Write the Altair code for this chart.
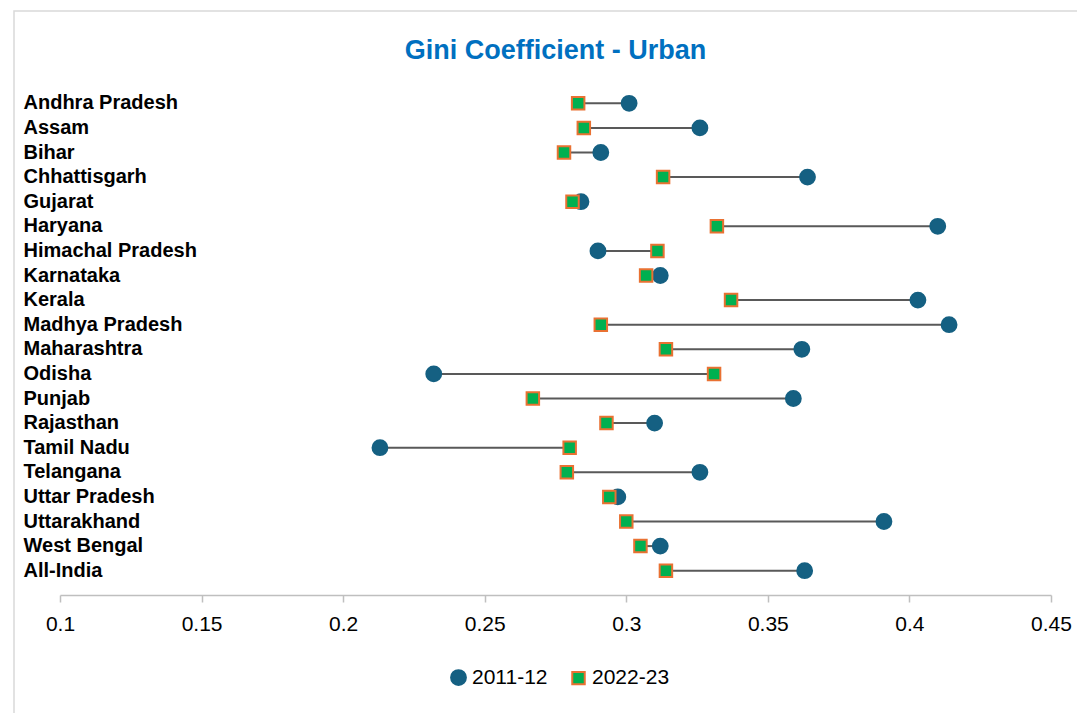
import altair as alt
import pandas as pd

# Urban Gini coefficient by state, two survey rounds
states = [
    "Andhra Pradesh", "Assam", "Bihar", "Chhattisgarh", "Gujarat", "Haryana",
    "Himachal Pradesh", "Karnataka", "Kerala", "Madhya Pradesh", "Maharashtra",
    "Odisha", "Punjab", "Rajasthan", "Tamil Nadu", "Telangana", "Uttar Pradesh",
    "Uttarakhand", "West Bengal", "All-India",
]
gini_2011 = [0.301, 0.326, 0.291, 0.364, 0.284, 0.410, 0.290, 0.312, 0.403, 0.414,
             0.362, 0.232, 0.359, 0.310, 0.213, 0.326, 0.297, 0.391, 0.312, 0.363]
gini_2022 = [0.283, 0.285, 0.278, 0.313, 0.281, 0.332, 0.311, 0.307, 0.337, 0.291,
             0.314, 0.331, 0.267, 0.293, 0.280, 0.279, 0.294, 0.300, 0.305, 0.314]
periods = ["2011-12", "2022-23"]
x_ticks = [0.1, 0.15, 0.2, 0.25, 0.3, 0.35, 0.4, 0.45]

BLUE = "#156082"
GREEN = "#00B050"
ORANGE = "#E97132"
LINE = "#595959"

wide = pd.DataFrame({"state": states, "g2011": gini_2011, "g2022": gini_2022})
long = pd.concat([
    pd.DataFrame({"state": states, "period": periods[0], "gini": gini_2011}),
    pd.DataFrame({"state": states, "period": periods[1], "gini": gini_2022}),
], ignore_index=True)

x_scale = alt.Scale(domain=[0.1, 0.45], nice=False, zero=False)
y_scale = alt.Scale(domain=states, paddingInner=0, paddingOuter=0)

# outer chart frame
frame = alt.Chart(pd.DataFrame({"k": [0]})).mark_rect(
    fillOpacity=0, stroke="#D9D9D9", strokeWidth=1.5
).encode(
    x=alt.value(-46), x2=alt.value(1100), y=alt.value(-80), y2=alt.value(700)
)

connectors = alt.Chart(wide).mark_rule(color=LINE, strokeWidth=2).encode(
    x=alt.X("g2011:Q", scale=x_scale,
            axis=alt.Axis(values=x_ticks, title=None, grid=False, offset=12,
                          format="~g",
                          domainColor="#BFBFBF", domainWidth=1.5,
                          tickColor="#BFBFBF", tickWidth=1.5, tickSize=7,
                          labelFontSize=21, labelColor="#000000",
                          labelFont="Liberation Sans", labelPadding=11,
                          labelFlush=False)),
    x2="g2022:Q",
    y=alt.Y("state:N", scale=y_scale, sort=states,
            axis=alt.Axis(title=None, domain=False, ticks=False, tickSize=0,
                          labelAlign="left", labelPadding=37,
                          labelFontSize=20, labelFontWeight="bold",
                          labelFont="Liberation Sans", labelColor="#000000")),
)

points = alt.Chart(long).mark_point(filled=True, strokeWidth=2, opacity=1).encode(
    x=alt.X("gini:Q", scale=x_scale),
    y=alt.Y("state:N", scale=y_scale, sort=states),
    shape=alt.Shape("period:N", scale=alt.Scale(domain=periods, range=["circle", "square"]), title=None),
    fill=alt.Fill("period:N", scale=alt.Scale(domain=periods, range=[BLUE, GREEN]), title=None),
    stroke=alt.Stroke("period:N", scale=alt.Scale(domain=periods, range=[BLUE, ORANGE]), title=None),
    size=alt.Size("period:N", scale=alt.Scale(domain=periods, range=[220, 156]), title=None),
    order=alt.Order("period:N"),
)

chart = alt.layer(frame, connectors, points).resolve_scale(
    x="shared", y="shared"
).properties(
    width=991,
    height=492,
    padding={"left": 60, "top": 91, "right": 26, "bottom": 130},
    autosize=alt.AutoSizeParams(type="none"),
    background="white",
    title=alt.TitleParams(
        "Gini Coefficient - Urban", anchor="middle", fontSize=27,
        fontWeight="bold", font="Liberation Sans", color="#0070C0", offset=-55,
    ),
).configure_view(stroke="transparent", strokeWidth=0).configure_legend(
    orient="none", legendX=388, legendY=576, direction="horizontal",
    labelFontSize=21, labelFont="Liberation Sans",
    labelColor="#000000", labelOffset=3, columnPadding=20, symbolStrokeWidth=2,
)

chart.save("out.html", embed_options={"renderer": "svg", "actions": False})
